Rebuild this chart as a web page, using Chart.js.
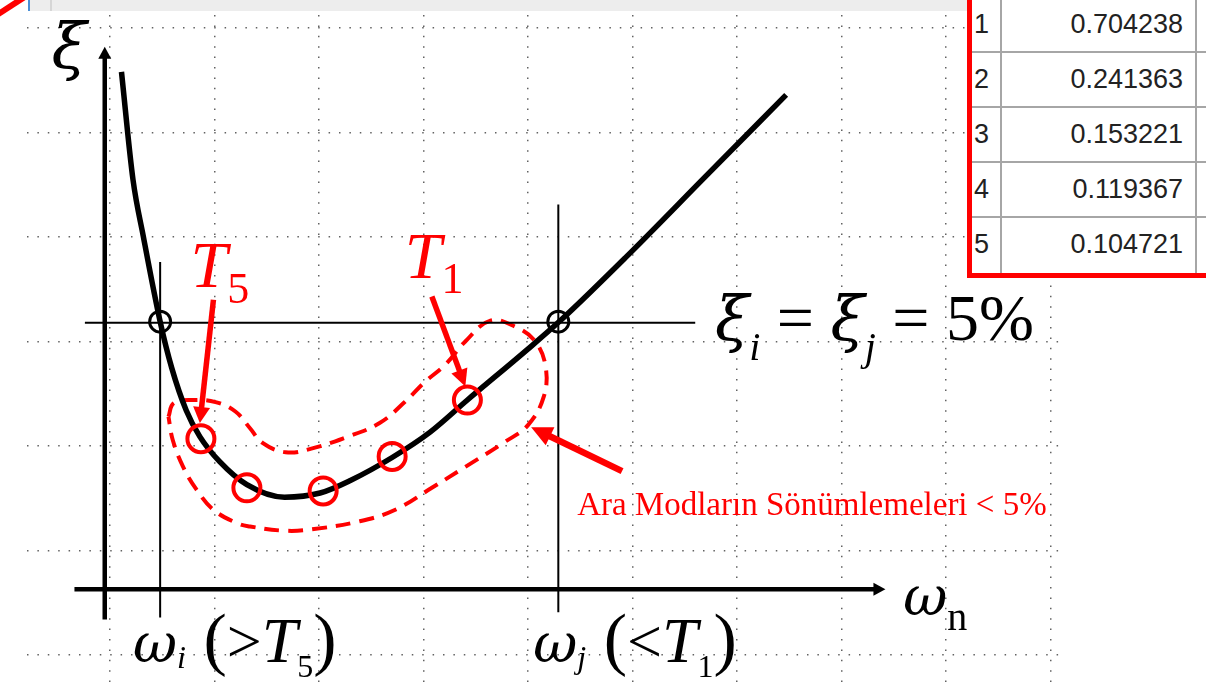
<!DOCTYPE html>
<html lang="tr">
<head>
<meta charset="UTF-8">
<title>Rayleigh sönümleme</title>
<script src="https://cdn.jsdelivr.net/npm/chart.js"></script>
<style>
  body { margin: 0; background: #fff; }
  #wrap { position: relative; width: 1206px; height: 687px; overflow: hidden; background: #fff; }
  #chart { display: block; }
  #topbar { position: absolute; left: 30px; top: 0; width: 938px; height: 11px; background: #ededed; }
  #topbar .blue { position: absolute; left: -2px; top: 0; width: 2px; height: 11px; background: #4a8fd6; }
  #topbar .sep { position: absolute; left: 20px; top: 0; width: 2px; height: 11px; background: #d6d6d6; }
  #slash { position: absolute; left: -20px; top: 10px; width: 50px; height: 6px; background: #f00;
           transform-origin: 20px 3px; transform: rotate(-33deg); }
  #tableBox { position: absolute; left: 967px; top: -2px; width: 245px; height: 280px; box-sizing: border-box;
              border-left: 5px solid #f00; border-bottom: 5px solid #f00; background: #fff; overflow: hidden; }
  .row { display: flex; height: 55px; box-sizing: border-box; border-bottom: 2px solid #a6a6a6;
         font: 27px "Liberation Sans", Arial, sans-serif; color: #222; line-height: 53px; }
  .row:last-child { border-bottom: none; }
  .c1 { width: 30px; box-sizing: border-box; border-right: 2px solid #a6a6a6; padding-left: 2px; }
  .c2 { width: 195px; box-sizing: border-box; border-right: 2px solid #a6a6a6; text-align: right; padding-right: 12px; }
  .c3 { flex: 1; }
</style>
</head>
<body>
<div id="wrap">
  <canvas id="chart" width="1206" height="687"></canvas>
  <div id="topbar"><div class="blue"></div><div class="sep"></div></div>
  <div id="slash"></div>
  <div id="tableBox"></div>
</div>

<script>
// mode table (period values)
const modeNo = [1, 2, 3, 4, 5];
const modePeriod = [0.704238, 0.241363, 0.153221, 0.119367, 0.104721];

// damping curve xi(omega), arbitrary units
const curveW  = [0.11, 0.22, 0.32, 0.48, 0.59, 0.73, 0.86, 1.05, 1.31, 1.67, 2.01, 2.30, 2.70, 3.06, 3.42, 3.99, 4.31, 4.93, 5.69, 6.47];
const curveXi = [5.58, 4.55, 4.00, 3.19, 2.75, 2.34, 2.09, 1.85, 1.63, 1.51, 1.55, 1.67, 1.89, 2.13, 2.44, 2.92, 3.20, 3.80, 4.57, 5.36];

// intermediate modes (red circles), T5 ... T1
const modeW  = [0.87, 1.31, 2.04, 2.70, 3.42];
const modeXi = [2.07, 1.60, 1.57, 1.90, 2.44];

// anchor points omega_i, omega_j at 5%
const anchorW  = [0.48, 4.29];
const anchorXi = [3.19, 3.19];

// dashed envelope around intermediate modes
const envW  = [0.56, 0.61, 0.79, 1.01, 1.20, 1.34, 1.46, 1.68, 1.91, 2.25, 2.58, 2.82, 3.01, 3.21, 3.40, 3.64, 3.88, 4.07, 4.17, 4.15, 4.00, 3.78, 3.40, 3.08, 2.73, 2.39, 1.91, 1.66, 1.34, 1.22, 0.99, 0.83, 0.70, 0.60, 0.56];
const envXi = [2.28, 2.41, 2.44, 2.42, 2.33, 2.17, 2.03, 1.94, 1.97, 2.08, 2.22, 2.42, 2.61, 2.78, 3.00, 3.20, 3.14, 3.00, 2.75, 2.47, 2.20, 2.04, 1.80, 1.60, 1.39, 1.28, 1.20, 1.19, 1.23, 1.26, 1.39, 1.58, 1.80, 2.06, 2.28];

// reference lines
const xiLineW = [-0.24, 5.60], xiLineXi = [3.18, 3.18];
const wiLineW = [0.48, 0.48],  wiLineXi = [3.76, 0.36];
const wjLineW = [4.29, 4.29],  wjLineXi = [4.31, 0.41];

// axes and arrows (tail -> tip)
const yAxisW = [-0.05, -0.05], yAxisXi = [0.34, 5.82];
const xAxisW = [-0.34, 7.42],  xAxisXi = [0.63, 0.63];
const t5ArrW = [0.99, 0.86],   t5ArrXi = [3.40, 2.22];
const t1ArrW = [3.08, 3.40],   t1ArrXi = [3.43, 2.57];
const noteArrW = [4.90, 4.03], noteArrXi = [1.76, 2.18];

// background grid positions
const gridW  = [0, 1, 2, 3, 4, 5, 6, 7, 8, 9];
const gridXi = [0, 1, 2, 3, 4, 5, 6];

const pts = (xs, ys) => xs.map((v, i) => ({ x: v, y: ys[i] }));

// table
const box = document.getElementById('tableBox');
modeNo.forEach((n, i) => {
  const r = document.createElement('div');
  r.className = 'row';
  r.innerHTML = '<div class="c1">' + n + '</div><div class="c2">' + modePeriod[i].toFixed(6) + '</div><div class="c3"></div>';
  box.appendChild(r);
});

const RED = '#ff0000';
const SERIF = '"Liberation Serif", "Times New Roman", serif';
const GREEK = '"DejaVu Serif", serif';

const labels = [
  { x: -0.56, y: 5.62, color: '#000', runs: [{ t: 'ξ', f: 'italic 64px ' + GREEK }] },
  { x: 5.79, y: 3.01, color: '#000', runs: [
      { t: 'ξ', f: 'italic 62px ' + GREEK },
      { t: 'i', f: 'italic 40px ' + SERIF, dy: 20 },
      { t: ' = ', f: '66px ' + SERIF },
      { t: 'ξ', f: 'italic 62px ' + GREEK },
      { t: 'j', f: 'italic 40px ' + SERIF, dy: 20 },
      { t: ' = 5%', f: '66px ' + SERIF }
  ] },
  { x: 0.77, y: 3.52, color: RED, runs: [
      { t: 'T', f: 'italic 66px ' + SERIF },
      { t: '5', f: '44px ' + SERIF, dy: 16 }
  ] },
  { x: 2.82, y: 3.61, color: RED, runs: [
      { t: 'T', f: 'italic 66px ' + SERIF },
      { t: '1', f: '44px ' + SERIF, dy: 15 }
  ] },
  { x: 4.47, y: 1.34, color: RED, runs: [{ t: 'Ara Modların Sönümlemeleri < 5%', f: '33px ' + SERIF }] },
  { x: 7.59, y: 0.38, color: '#000', runs: [
      { t: 'ω', f: 'italic 54px ' + GREEK },
      { t: 'n', f: '40px ' + SERIF, dy: 15 }
  ] },
  { x: 0.22, y: -0.07, color: '#000', runs: [
      { t: 'ω', f: 'italic 54px ' + GREEK },
      { t: 'i', f: 'italic 32px ' + SERIF, dy: 6 },
      { t: ' (', f: '70px ' + SERIF },
      { t: '>', f: '62px ' + SERIF },
      { t: 'T', f: 'italic 64px ' + SERIF },
      { t: '5', f: '32px ' + SERIF, dy: 15 },
      { t: ')', f: '70px ' + SERIF }
  ] },
  { x: 4.05, y: -0.07, color: '#000', runs: [
      { t: 'ω', f: 'italic 54px ' + GREEK },
      { t: 'j', f: 'italic 32px ' + SERIF, dy: 6 },
      { t: ' (', f: '70px ' + SERIF },
      { t: '<', f: '62px ' + SERIF },
      { t: 'T', f: 'italic 64px ' + SERIF },
      { t: '1', f: '32px ' + SERIF, dy: 15 },
      { t: ')', f: '70px ' + SERIF }
  ] }
];

// draws shaft + head for datasets that carry an "arrow" option
const arrowPlugin = {
  id: 'arrows',
  afterDatasetsDraw(chart) {
    const ctx = chart.ctx;
    chart.data.datasets.forEach((ds, i) => {
      if (!ds.arrow) return;
      const el = chart.getDatasetMeta(i).data;
      const a = el[0], b = el[el.length - 1];
      const ang = Math.atan2(b.y - a.y, b.x - a.x);
      const { shaft, len, wid } = ds.arrow;
      const c = Math.cos(ang), s = Math.sin(ang);
      const bx = b.x - c * len, by = b.y - s * len;
      ctx.save();
      ctx.strokeStyle = ds.borderColor;
      ctx.fillStyle = ds.borderColor;
      ctx.lineWidth = shaft;
      ctx.beginPath();
      ctx.moveTo(a.x, a.y);
      ctx.lineTo(bx + c * 2, by + s * 2);
      ctx.stroke();
      ctx.beginPath();
      ctx.moveTo(b.x, b.y);
      ctx.lineTo(bx - s * wid / 2, by + c * wid / 2);
      ctx.lineTo(bx + s * wid / 2, by - c * wid / 2);
      ctx.closePath();
      ctx.fill();
      ctx.restore();
    });
  }
};

const textPlugin = {
  id: 'texts',
  afterDraw(chart) {
    const { ctx, scales } = chart;
    ctx.save();
    ctx.textBaseline = 'alphabetic';
    labels.forEach(l => {
      let px = scales.x.getPixelForValue(l.x);
      const py = scales.y.getPixelForValue(l.y);
      ctx.fillStyle = l.color;
      l.runs.forEach(r => {
        ctx.font = r.f;
        px += r.dx || 0;
        ctx.fillText(r.t, px, py + (r.dy || 0));
        px += ctx.measureText(r.t).width;
      });
    });
    ctx.restore();
  }
};

const lineDs = (xs, ys, w) => ({
  data: pts(xs, ys), showLine: true, borderColor: '#000', borderWidth: w,
  pointRadius: 0, fill: false, clip: false
});
const arrowDs = (xs, ys, color, shaft, len, wid) => ({
  data: pts(xs, ys), showLine: false, pointRadius: 0, borderColor: color,
  arrow: { shaft, len, wid }, clip: false
});

const gridOpts = { color: 'rgba(70,70,70,0.85)', lineWidth: 1.5, drawTicks: false };

new Chart(document.getElementById('chart'), {
  type: 'scatter',
  data: {
    datasets: [
      { data: pts(anchorW, anchorXi), pointRadius: 10.5, pointBorderWidth: 3,
        pointBorderColor: '#000', pointBackgroundColor: 'rgba(0,0,0,0)', clip: false },
      { data: pts(modeW, modeXi), pointRadius: 13.5, pointBorderWidth: 4,
        pointBorderColor: RED, pointBackgroundColor: 'rgba(0,0,0,0)', clip: false },
      Object.assign(lineDs(curveW, curveXi, 5.5), { cubicInterpolationMode: 'monotone' }),
      lineDs(xiLineW, xiLineXi, 2),
      lineDs(wiLineW, wiLineXi, 2),
      lineDs(wjLineW, wjLineXi, 2),
      { data: pts(envW, envXi), showLine: true, borderColor: RED, borderWidth: 4,
        borderDash: [15, 9], tension: 0.4, pointRadius: 0, fill: false, clip: false },
      arrowDs(yAxisW, yAxisXi, '#000', 4.5, 12, 13),
      arrowDs(xAxisW, xAxisXi, '#000', 4.5, 12, 13),
      arrowDs(t5ArrW, t5ArrXi, RED, 5.5, 16, 17),
      arrowDs(t1ArrW, t1ArrXi, RED, 5.5, 17, 17),
      arrowDs(noteArrW, noteArrXi, RED, 6.5, 21, 20)
    ]
  },
  options: {
    responsive: false,
    devicePixelRatio: 1,
    animation: false,
    layout: { autoPadding: false, padding: { left: 27, right: 145, top: 15, bottom: 0 } },
    plugins: { legend: { display: false }, tooltip: { enabled: false } },
    scales: {
      x: {
        type: 'linear', min: -0.794, max: 9.10,
        afterBuildTicks: s => { s.ticks = gridW.map(v => ({ value: v })); },
        afterFit: s => { s.height = 0; },
        ticks: { display: false },
        grid: gridOpts,
        border: { display: false, dash: [1.5, 8.9] }
      },
      y: {
        type: 'linear', min: -0.306, max: 6.124,
        afterBuildTicks: s => { s.ticks = gridXi.map(v => ({ value: v })); },
        afterFit: s => { s.width = 0; },
        ticks: { display: false },
        grid: gridOpts,
        border: { display: false, dash: [1.5, 8.9] }
      }
    }
  },
  plugins: [arrowPlugin, textPlugin]
});
</script>
</body>
</html>
